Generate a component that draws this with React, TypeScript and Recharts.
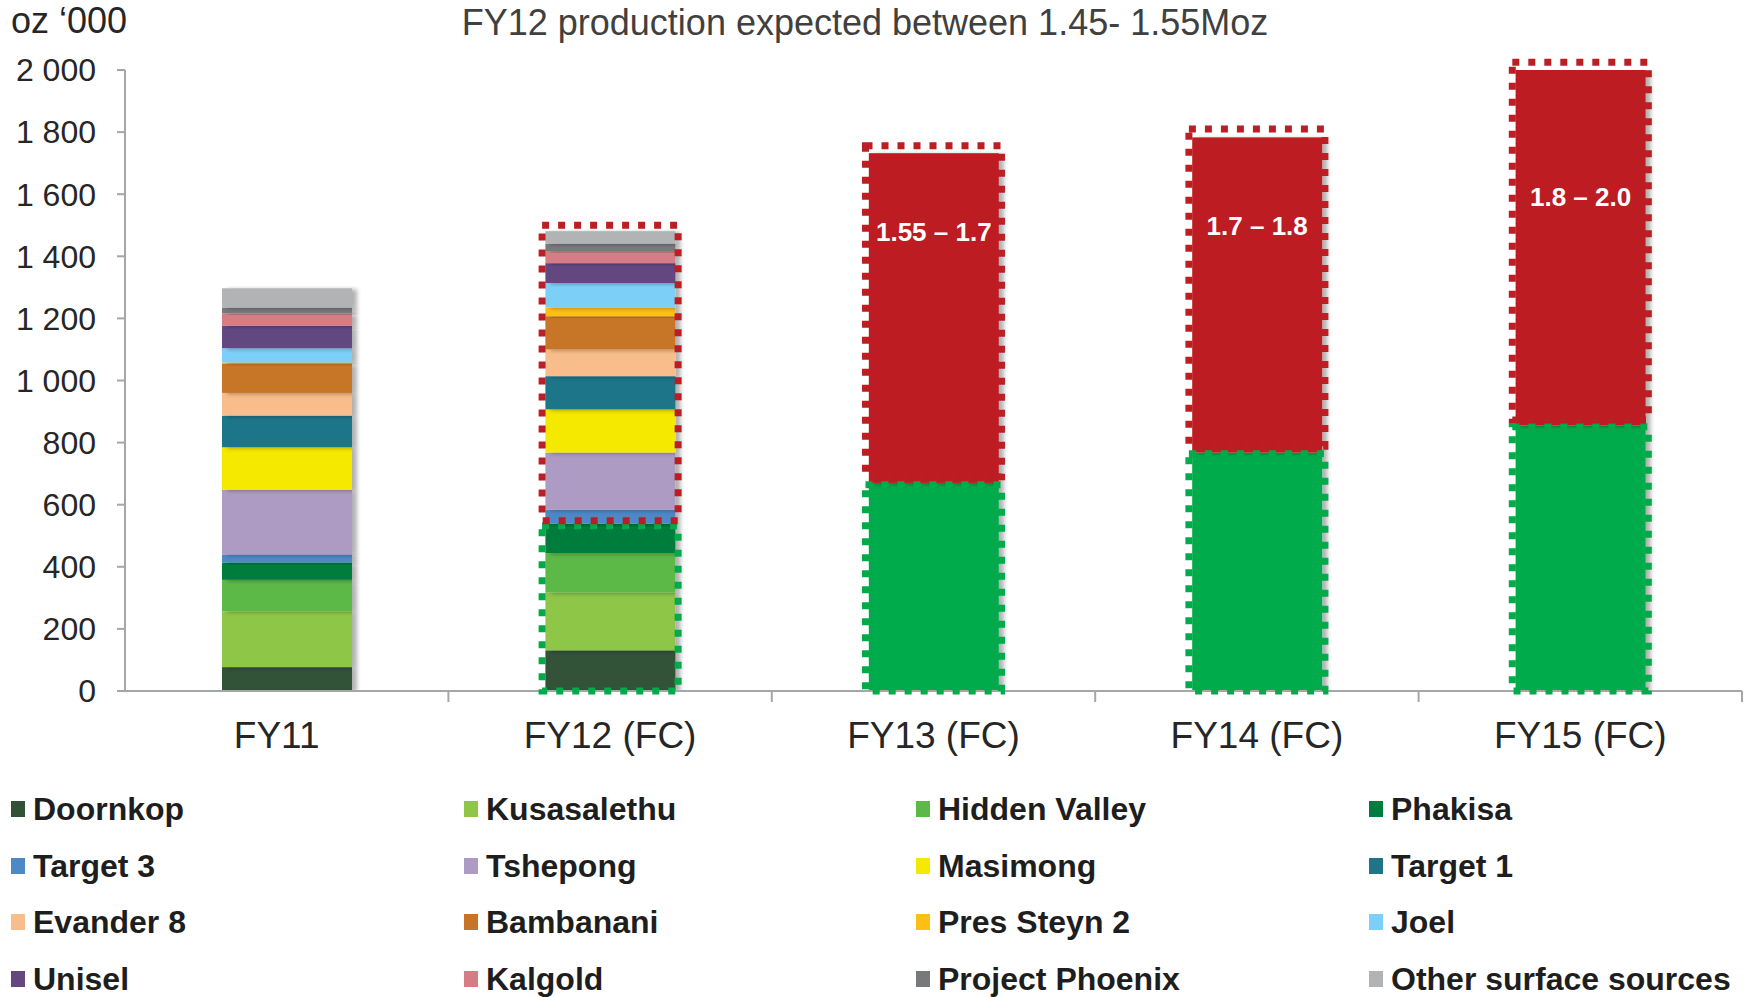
import { Bar, BarChart, LabelList, Legend, ReferenceArea, XAxis, YAxis } from "recharts";

const years = ["FY11", "FY12 (FC)", "FY13 (FC)", "FY14 (FC)", "FY15 (FC)"];

// oz '000 per operation: FY11 actual, FY12 forecast
const doornkop = [77, 131, 0, 0, 0];
const kusasalethu = [180, 186, 0, 0, 0];
const hiddenValley = [101, 127, 0, 0, 0];
const phakisa = [56, 95, 0, 0, 0];
const target3 = [26, 45, 0, 0, 0];
const tshepong = [208, 184, 0, 0, 0];
const masimong = [137, 139, 0, 0, 0];
const target1 = [102, 107, 0, 0, 0];
const evander8 = [73, 86, 0, 0, 0];
const bambanani = [95, 107, 0, 0, 0];
const presSteyn2 = [3, 28, 0, 0, 0];
const joel = [46, 79, 0, 0, 0];
const unisel = [72, 64, 0, 0, 0];
const kalgold = [40, 39, 0, 0, 0];
const projectPhoenix = [19, 24, 0, 0, 0];
const otherSurface = [62, 40, 0, 0, 0];

// later years: existing base plus growth range
const baseOps = [0, 0, 670, 768, 855];
const growthOps = [0, 0, 1062, 1015, 1145];
const growthLabels = ["", "", "1.55 – 1.7", "1.7 – 1.8", "1.8 – 2.0"];

// dotted outlines [from, to]
const greenOutline = [null, [0, 532], [0, 664], [0, 764], [0, 851]];
const redOutline = [null, [548, 1500], [690, 1756], [788, 1810], [873, 2025]];

const yTicks = [0, 200, 400, 600, 800, 1000, 1200, 1400, 1600, 1800, 2000];

const mines = [
	{ key: "doornkop", name: "Doornkop", color: "#325237", values: doornkop },
	{ key: "kusasalethu", name: "Kusasalethu", color: "#8EC747", values: kusasalethu },
	{ key: "hiddenValley", name: "Hidden Valley", color: "#5CB947", values: hiddenValley },
	{ key: "phakisa", name: "Phakisa", color: "#007C3E", values: phakisa },
	{ key: "target3", name: "Target 3", color: "#4E89C7", values: target3 },
	{ key: "tshepong", name: "Tshepong", color: "#AE9BC4", values: tshepong },
	{ key: "masimong", name: "Masimong", color: "#F5E900", values: masimong },
	{ key: "target1", name: "Target 1", color: "#1F7489", values: target1 },
	{ key: "evander8", name: "Evander 8", color: "#F9BD8B", values: evander8 },
	{ key: "bambanani", name: "Bambanani", color: "#C77428", values: bambanani },
	{ key: "presSteyn2", name: "Pres Steyn 2", color: "#FDBF14", values: presSteyn2 },
	{ key: "joel", name: "Joel", color: "#7CD0F7", values: joel },
	{ key: "unisel", name: "Unisel", color: "#644780", values: unisel },
	{ key: "kalgold", name: "Kalgold", color: "#D57D85", values: kalgold },
	{ key: "projectPhoenix", name: "Project Phoenix", color: "#77797B", values: projectPhoenix },
	{ key: "otherSurface", name: "Other surface sources", color: "#B2B3B5", values: otherSurface },
];

const data = years.map((year, i) => {
	const row: Record<string, string | number> = { year, base: baseOps[i], growth: growthOps[i], label: growthLabels[i] };
	mines.forEach((m) => {
		row[m.key] = m.values[i];
	});
	return row;
});

const W = 1748;
const H = 997;
const Y_AXIS_W = 125;
const RIGHT = 6;
const BAND = (W - Y_AXIS_W - RIGHT) / years.length;
const BAR_W = 130;
const OUTLINE_W = 136;
const FONT = "'Liberation Sans', Arial, sans-serif";
const AXIS_GREY = "#A6A6A6";
const RED = "#BC1E24";
const GREEN = "#00AB4C";

const fmtThousands = (v: number) => String(v).replace(/\B(?=(\d{3})+(?!\d))/g, " ");

function ShadowRect(props: any) {
	const { x, y, width, height, fill } = props;
	if (!height || height <= 0) return null;
	return <rect x={x} y={y} width={width} height={height} fill={fill} filter="url(#barShadow)" />;
}

function CategoryTick(props: any) {
	const { x, y, payload, index } = props;
	// first label sits slightly left of its bar
	const nudge = index === 0 ? -10 : 0;
	return (
		<g>
			{index > 0 && <line x1={x - BAND / 2} x2={x - BAND / 2} y1={y} y2={y + 11} stroke={AXIS_GREY} strokeWidth={2} />}
			{index === years.length - 1 && <line x1={x + BAND / 2} x2={x + BAND / 2} y1={y} y2={y + 11} stroke={AXIS_GREY} strokeWidth={2} />}
			<text x={x + nudge} y={y + 44} dy="0.355em" textAnchor="middle" fontFamily={FONT} fontSize={37} fill="#262626">
				{payload.value}
			</text>
		</g>
	);
}

// label sits a little below the top of each growth block
const labelDrop = [0, 0, 79, 88, 127];

function GrowthLabel(props: any) {
	const { x, y, width, value, index } = props;
	if (!value) return null;
	return (
		<text x={x + width / 2} y={y + labelDrop[index]} dy="0.355em" textAnchor="middle" fontFamily={FONT} fontWeight={700} fontSize={26} fill="#FFFFFF">
			{value}
		</text>
	);
}

const outlineShape = (color: string) => (props: any) => {
	const { x, y, width, height } = props;
	const cx = x + width / 2;
	return (
		<rect x={cx - OUTLINE_W / 2} y={y} width={OUTLINE_W} height={height} fill="none" stroke={color} strokeWidth={7} strokeDasharray="7 9" />
	);
};

const legendCols = [11, 464, 916, 1369];
const legendRows = [39, 96, 152, 209];

function MineLegend() {
	return (
		<div style={{ position: "relative", width: W, height: 227, fontFamily: FONT, fontWeight: 700, fontSize: 32, color: "#1E1E1E" }}>
			{mines.map((m, i) => (
				<div
					key={m.key}
					style={{
						position: "absolute",
						left: legendCols[i % 4],
						top: legendRows[Math.floor(i / 4)] - 20,
						height: 40,
						display: "flex",
						alignItems: "center",
						whiteSpace: "nowrap",
					}}
				>
					<span style={{ display: "inline-block", width: 14, height: 16, background: m.color, marginRight: 8 }} />
					{m.name}
				</div>
			))}
		</div>
	);
}

export default function App() {
	return (
		<div style={{ position: "absolute", left: 0, top: 0, width: W, height: H, background: "#fff" }}>
			<svg width={0} height={0} style={{ position: "absolute" }}>
				<defs>
					<filter id="barShadow" x="-10%" y="-10%" width="130%" height="130%">
						<feDropShadow dx={5} dy={1} stdDeviation={2} floodColor="#000" floodOpacity={0.3} />
					</filter>
				</defs>
			</svg>
			<svg width={W} height={60} style={{ position: "absolute", left: 0, top: 0 }}>
				<text x={11} y={33} fontFamily={FONT} fontSize={36} fill="#262626">
					oz ‘000
				</text>
				<text x={865} y={35} textAnchor="middle" fontFamily={FONT} fontSize={36} fill="#404040">
					FY12 production expected between 1.45- 1.55Moz
				</text>
			</svg>
			<BarChart width={W} height={H} data={data} margin={{ top: 70, right: RIGHT, left: 0, bottom: 0 }} barSize={BAR_W}>
				<XAxis
					dataKey="year"
					height={79}
					interval={0}
					tickSize={0}
					tickMargin={0}
					tickLine={false}
					axisLine={{ stroke: AXIS_GREY, strokeWidth: 2 }}
					tick={<CategoryTick />}
				/>
				<YAxis
					width={Y_AXIS_W}
					domain={[0, 2000]}
					ticks={yTicks}
					allowDataOverflow
					tickFormatter={fmtThousands}
					tickSize={8}
					tickMargin={21}
					axisLine={{ stroke: AXIS_GREY, strokeWidth: 2 }}
					tickLine={{ stroke: AXIS_GREY, strokeWidth: 2 }}
					tick={{ fontSize: 32, fill: "#262626", fontFamily: FONT }}
				/>
				{mines.map((m) => (
					<Bar key={m.key} dataKey={m.key} name={m.name} stackId="ops" fill={m.color} shape={ShadowRect} isAnimationActive={false} />
				))}
				<Bar dataKey="base" stackId="ops" fill={GREEN} shape={ShadowRect} isAnimationActive={false} />
				<Bar dataKey="growth" stackId="ops" fill={RED} shape={ShadowRect} isAnimationActive={false}>
					<LabelList dataKey="label" content={<GrowthLabel />} />
				</Bar>
				{years.map((year, i) =>
					greenOutline[i] ? (
						<ReferenceArea
							key={`g-${year}`}
							x1={year}
							x2={year}
							y1={greenOutline[i]![0]}
							y2={greenOutline[i]![1]}
							ifOverflow="visible"
							shape={outlineShape(GREEN)}
							zIndex={1000}
						/>
					) : null
				)}
				{years.map((year, i) =>
					redOutline[i] ? (
						<ReferenceArea
							key={`r-${year}`}
							x1={year}
							x2={year}
							y1={redOutline[i]![0]}
							y2={redOutline[i]![1]}
							ifOverflow="visible"
							shape={outlineShape(RED)}
							zIndex={1000}
						/>
					) : null
				)}
				<Legend verticalAlign="bottom" height={227} content={<MineLegend />} wrapperStyle={{ left: 0, width: W }} />
			</BarChart>
		</div>
	);
}
